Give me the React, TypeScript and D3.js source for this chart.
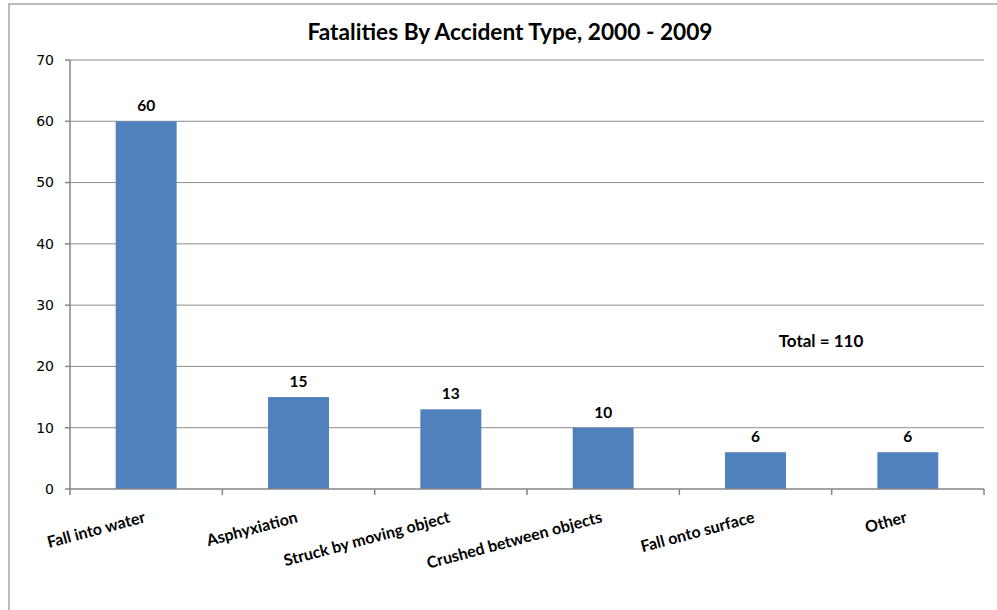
import React from "react";
import * as d3 from "d3";

// Accident categories and fatality counts, 2000–2009
const categories: string[] = [
  "Fall into water",
  "Asphyxiation",
  "Struck by moving object",
  "Crushed between objects",
  "Fall onto surface",
  "Other",
];
const fatalities: number[] = [60, 15, 13, 10, 6, 6];
const yTicks: number[] = [0, 10, 20, 30, 40, 50, 60, 70];
const chartTitle = "Fatalities By Accident Type, 2000 - 2009";
const totalNote = "Total = 110";

const W = 997;
const H = 610;
const plot = { left: 70, right: 984, top: 60, bottom: 489 };
const boldFont = "Lato, 'Open Sans', sans-serif";
const axisFont = "'DejaVu Sans', sans-serif";

export default function App() {
  const x = d3
    .scaleBand<string>()
    .domain(categories)
    .range([plot.left, plot.right])
    .paddingInner(0.6)
    .paddingOuter(0.3);
  const y = d3.scaleLinear().domain([0, 70]).range([plot.bottom, plot.top]);
  const step = x.step();
  const tickXs = d3.range(categories.length + 1).map((i) => plot.left + i * step);

  return (
    <svg
      width={W}
      height={H}
      style={{ position: "absolute", left: 0, top: 0, background: "#fff" }}
    >
      {/* chart frame */}
      <rect x={9} y={4} width={W + 20} height={H + 20} fill="#fff" stroke="#a6a6a6" strokeWidth={1.5} />

      <text
        x={510}
        y={40}
        textAnchor="middle"
        fontFamily={boldFont}
        fontWeight="bold"
        fontSize={22.7}
        fill="#000"
      >
        {chartTitle}
      </text>

      {/* horizontal gridlines */}
      {yTicks.slice(1).map((t) => (
        <line key={t} x1={plot.left} x2={plot.right} y1={y(t)} y2={y(t)} stroke="#8c8c8c" strokeWidth={1} />
      ))}

      {/* bars */}
      {categories.map((c, i) => (
        <rect
          key={c}
          x={x(c)}
          y={y(fatalities[i])}
          width={x.bandwidth()}
          height={y(0) - y(fatalities[i])}
          fill="#4f81bd"
        />
      ))}

      {/* value labels */}
      {categories.map((c, i) => (
        <text
          key={c}
          x={(x(c) as number) + x.bandwidth() / 2}
          y={y(fatalities[i]) - 10}
          textAnchor="middle"
          fontFamily={boldFont}
          fontWeight="bold"
          fontSize={15.5}
          fill="#000"
        >
          {fatalities[i]}
        </text>
      ))}

      {/* y axis */}
      <line x1={plot.left} x2={plot.left} y1={plot.top} y2={plot.bottom} stroke="#868686" strokeWidth={1.5} />
      {yTicks.map((t) => (
        <g key={t}>
          <line x1={plot.left - 5} x2={plot.left} y1={y(t)} y2={y(t)} stroke="#868686" strokeWidth={1.5} />
          <text
            x={54}
            y={y(t)}
            dy="0.35em"
            textAnchor="end"
            fontFamily={axisFont}
            fontSize={14}
            fill="#000"
          >
            {t}
          </text>
        </g>
      ))}

      {/* x axis */}
      <line x1={plot.left} x2={plot.right} y1={plot.bottom} y2={plot.bottom} stroke="#868686" strokeWidth={1.5} />
      {tickXs.map((tx, i) => (
        <line key={i} x1={tx} x2={tx} y1={plot.bottom} y2={plot.bottom + 6} stroke="#868686" strokeWidth={1.5} />
      ))}
      {categories.map((c) => {
        const cx = (x(c) as number) + x.bandwidth() / 2;
        return (
          <text
            key={c}
            transform={`translate(${cx},${522}) rotate(-15)`}
            textAnchor="end"
            fontFamily={boldFont}
            fontWeight="bold"
            fontSize={16}
            fill="#000"
          >
            {c}
          </text>
        );
      })}

      <text
        x={821}
        y={347}
        textAnchor="middle"
        fontFamily={boldFont}
        fontWeight="bold"
        fontSize={17}
        fill="#000"
      >
        {totalNote}
      </text>
    </svg>
  );
}
